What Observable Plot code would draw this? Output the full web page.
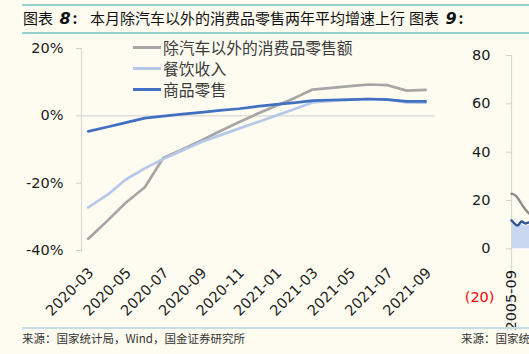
<!DOCTYPE html>
<html><head><meta charset="utf-8">
<script src="https://cdn.jsdelivr.net/npm/d3@7"></script>
<script src="https://cdn.jsdelivr.net/npm/@observablehq/plot@0.6"></script>
<style>
html,body{margin:0;padding:0;background:#fefcf1;}
#wrap{position:relative;width:529px;height:354px;overflow:hidden;background:#fefcf1;font-family:"DejaVu Sans",sans-serif;}
.hr{position:absolute;left:22px;right:0;}
.tt{position:absolute;top:7px;font-family:"Noto Sans CJK SC",sans-serif;font-size:15px;line-height:22px;color:#111;white-space:nowrap;}
.tt b{font-family:"DejaVu Sans",sans-serif;font-style:italic;font-weight:bold;font-size:16px;margin-left:3px;}
.tt i{font-style:normal;margin-left:2px;font-weight:bold;}
.src{position:absolute;top:330px;font-family:"Noto Sans CJK SC",sans-serif;font-size:11.5px;line-height:16px;color:#333;white-space:nowrap;}
#legend{position:absolute;left:133px;top:37px;font-family:"Noto Sans CJK SC",sans-serif;font-size:15.8px;color:#3a3a3a;}
.lg{display:flex;align-items:center;height:21px;white-space:nowrap;}
.sw{width:28px;height:2.6px;margin-right:2px;}
#main,#side{position:absolute;top:0;}
#main{left:0;}
#side{left:440px;}
</style></head>
<body>
<div id="wrap">
  <div class="hr" style="top:4px;height:2px;background:#95d1cc;"></div>
  <div class="tt" style="left:23px;">图表 <b>8</b><i>:</i></div>
  <div class="tt" style="left:90px;">本月除汽车以外的消费品零售两年平均增速上行</div>
  <div class="tt" style="left:409px;">图表 <b>9</b><i>:</i></div>
  <div class="hr" style="top:32px;height:2px;background:#95d1cc;"></div>
  <div id="main"></div>
  <div id="side"></div>
  <div id="legend"></div>
  <div class="hr" style="top:327px;height:1.5px;background:#c6dde2;"></div>
  <div class="src" style="left:22px;">来源：国家统计局，Wind，国金证券研究所</div>
  <div class="src" style="left:461px;">来源：国家统</div>
</div>
<script>
// ---- Chart 8 data ----
const months = ["2020-03","2020-04","2020-05","2020-06","2020-07","2020-08","2020-09","2020-10","2020-11","2020-12",
                "2021-01","2021-02","2021-03","2021-04","2021-05","2021-06","2021-07","2021-08","2021-09"];
const exAuto   = [-36.5,-31.2,-25.8,-21.2,-12.5,-10.0,-7.3,-4.6,-1.9,0.6,3.0,5.4,7.8,8.3,8.8,9.3,9.1,7.5,7.7];
const catering = [-27.2,-23.5,-18.9,-15.6,-12.8,-10.3,-7.8,-5.8,-3.8,-1.9,0.1,2.1,4.0,4.4,4.8,5.0,4.9,4.0,3.9];
const goods    = [-4.6,-3.3,-2.0,-0.7,-0.1,0.5,1.0,1.6,2.1,2.8,3.4,3.9,4.5,4.7,4.8,5.0,4.8,4.3,4.3];
const seriesNames = ["除汽车以外的消费品零售额","餐饮收入","商品零售"];
const seriesColors = ["#a6a6a6","#b6c8e8","#4170c2"];
const tickMonths = ["2020-03","2020-05","2020-07","2020-09","2020-11","2021-01","2021-03","2021-05","2021-07","2021-09"];
const yTicks = [-40,-20,0,20];

// ---- Chart 9 (partial, cut at the right edge) ----
const side_months = ["2005-09","2005-10","2005-11","2005-12","2006-01","2006-02","2006-03","2006-04","2006-05","2006-06","2006-07","2006-08","2006-09","2006-10"];
const side_gray = [22.8,22.7,22.4,22.0,21.4,20.6,19.7,18.8,17.9,17.1,16.3,15.6,15.0,14.5];
const side_blue = [11.8,11.2,10.5,10.0,9.6,9.9,10.6,11.3,11.2,10.8,10.5,10.6,10.8,11.0];
const side_area = [10.5,10.2,9.6,9.2,8.8,9.0,9.6,10.1,10.0,9.7,9.4,9.5,9.6,9.8];
const side_yTicks = [0,20,40,60,80];
const side_negTicks = [-20];
const side_xTick = ["2005-09"];

const parse = d3.utcParse("%Y-%m");
const fmt = d3.utcFormat("%Y-%m");
const dates = months.map(parse);
const vals = [exAuto, catering, goods];
const tables = vals.map((arr, s) => arr.map((v, i) => ({date: dates[i], value: v, series: seriesNames[s]})));

const x0 = d3.utcDay.offset(dates[0], -11);
const x1 = d3.utcDay.offset(dates[dates.length-1], 16);

const main = Plot.plot({
  width: 460, height: 330,
  marginLeft: 81, marginRight: 25, marginTop: 48, marginBottom: 80,
  style: {background: "transparent", fontFamily: "DejaVu Sans", fontSize: "14px", color: "#1a1a1a", overflow: "visible"},
  x: {type: "utc", domain: [x0, x1], label: null},
  y: {domain: [-40, 20], label: null},
  color: {domain: seriesNames, range: seriesColors},
  marks: [
    Plot.ruleY([0], {stroke: "#d9d9d9", strokeWidth: 1.2}),
    Plot.ruleX([x0], {y1: -40.6, y2: 20, stroke: "#d9d9d9", strokeWidth: 1.2}),
    Plot.axisY({ticks: yTicks, tickFormat: d => d + "%", tickSize: 5, tickPadding: 13, fontSize: 14.5, stroke: "#d0d0d0", fill: "#1a1a1a"}),
    Plot.axisX({ticks: tickMonths.map(parse), tickFormat: fmt, tickRotate: -45, tickSize: 0, tickPadding: 20, dx: 3, fontSize: 14.5, fill: "#222"}),
    ...tables.map(t => Plot.lineY(t, {x: "date", y: "value", stroke: "series", strokeWidth: 2.7, curve: "linear"}))
  ]
});
document.getElementById("main").appendChild(main);

// legend
const lg = document.getElementById("legend");
seriesNames.forEach((n, i) => {
  const row = document.createElement("div"); row.className = "lg";
  const sw = document.createElement("div"); sw.className = "sw"; sw.style.background = seriesColors[i];
  const tx = document.createElement("span"); tx.textContent = n;
  row.appendChild(sw); row.appendChild(tx); lg.appendChild(row);
});

// side chart
const sd = side_months.map(parse);
const sRows = sd.map((d, i) => ({date: d, gray: side_gray[i], blue: side_blue[i], area: side_area[i]}));
const side = Plot.plot({
  width: 89, height: 354,
  marginLeft: 71, marginRight: 0, marginTop: 55, marginBottom: 23.5,
  style: {background: "transparent", fontFamily: "DejaVu Sans", fontSize: "14px", color: "#1a1a1a", overflow: "hidden"},
  x: {type: "utc", domain: [sd[0], sd[sd.length-1]], label: null},
  y: {domain: [-34, 80], label: null},
  marks: [
    Plot.areaY(sRows, {x: "date", y: "area", fill: "#c9d8f0"}),
    Plot.ruleX([sd[0]], {y1: -34, y2: 80, stroke: "#d9d9d9", strokeWidth: 1.2}),
    Plot.lineY(sRows, {x: "date", y: "gray", stroke: "#8c8c8c", strokeWidth: 2.4}),
    Plot.lineY(sRows, {x: "date", y: "blue", stroke: "#2f5597", strokeWidth: 2.4}),
    Plot.axisY({ticks: side_yTicks, tickFormat: d => String(d), tickSize: 5, tickPadding: 16, fontSize: 14.5, stroke: "#d0d0d0", fill: "#1a1a1a"}),
    Plot.axisY({ticks: side_negTicks, tickFormat: d => "(" + (-d) + ")", tickSize: 0, tickPadding: 17, fontSize: 14.5, fill: "#ff0000"}),
    Plot.axisX({ticks: side_xTick.map(parse), tickFormat: fmt, tickRotate: -90, tickSize: 0, tickPadding: 0, dy: -61, textAnchor: "end", fontSize: 14.5, fill: "#1a1a1a"})
  ]
});
document.getElementById("side").appendChild(side);
</script>
</body></html>
